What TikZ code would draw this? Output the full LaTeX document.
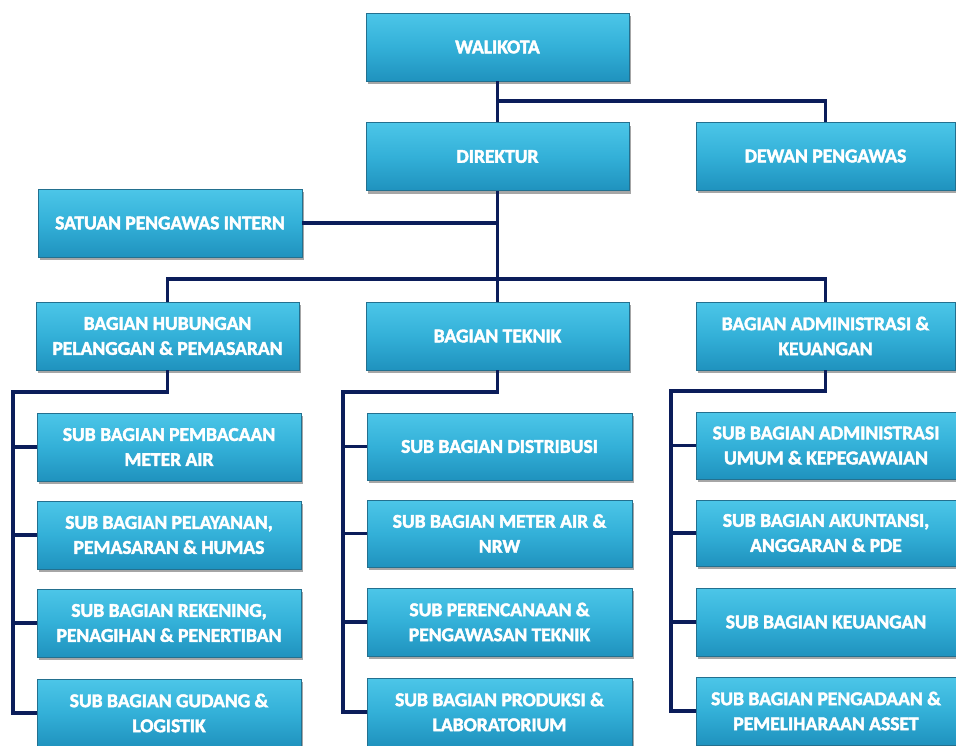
\documentclass[tikz,border=0pt]{standalone}
\usepackage{fontspec}
\setmainfont{Carlito}
\usetikzlibrary{shadows}
\definecolor{boxtop}{HTML}{4CC6E8}
\definecolor{boxmid}{HTML}{33B0D8}
\definecolor{boxbot}{HTML}{1F92BE}
\definecolor{boxedge}{HTML}{23708F}
\definecolor{navy}{HTML}{0B1D5A}
\newcommand{\heavytext}[1]{\special{pdf:literal direct 2 Tr 0.45 w}#1\special{pdf:literal direct 0 Tr}}
\tikzset{
  orgbox/.style={rectangle, draw=boxedge, line width=0.8pt,
    top color=boxtop, bottom color=boxbot, middle color=boxmid,
    text=white, align=center, inner sep=2pt,
    font=\bfseries\fontsize{19.5}{25}\selectfont,
    execute at begin node=\special{pdf:literal direct 2 Tr 0.45 w},
    execute at end node=\special{pdf:literal direct 0 Tr},
    drop shadow={shadow xshift=2pt, shadow yshift=-3pt, opacity=0.35, fill=black}},
  conn/.style={draw=navy, line width=3.6pt, line join=miter}
}
\begin{document}
\begin{tikzpicture}[x=1pt,y=-1pt]
\useasboundingbox[fill=white] (0,0) rectangle (956,745);

\coordinate (j1) at (497.5,101);
\coordinate (j2) at (497.5,279);
\coordinate (c1) at (13,392);
\coordinate (c2) at (343,392);
\coordinate (c3) at (671,391);

% top level
\node[orgbox, minimum width=263pt, minimum height=68pt] (wali) at (497.5,47) {WALIKOTA};
\node[orgbox, minimum width=263pt, minimum height=68pt] (dir) at (497.5,156.5) {DIREKTUR};
\node[orgbox, minimum width=259pt, minimum height=68pt] (dewan) at (825.5,156) {DEWAN PENGAWAS};
\node[orgbox, minimum width=264pt, minimum height=68pt] (spi) at (170,223) {SATUAN PENGAWAS INTERN};

% bagian
\node[orgbox, minimum width=263pt, minimum height=68pt] (bhub) at (167.5,336) {BAGIAN HUBUNGAN\\PELANGGAN \& PEMASARAN};
\node[orgbox, minimum width=263pt, minimum height=68pt] (btek) at (497.5,336) {BAGIAN TEKNIK};
\node[orgbox, minimum width=259pt, minimum height=68pt] (badm) at (825.5,336) {BAGIAN ADMINISTRASI \&\\KEUANGAN};

% column 1
\node[orgbox, minimum width=264pt, minimum height=68pt] (s11) at (169,447) {SUB BAGIAN PEMBACAAN\\METER AIR};
\node[orgbox, minimum width=264pt, minimum height=68pt] (s12) at (169,535) {SUB BAGIAN PELAYANAN,\\PEMASARAN \& HUMAS};
\node[orgbox, minimum width=264pt, minimum height=68pt] (s13) at (169,623) {SUB BAGIAN REKENING,\\PENAGIHAN \& PENERTIBAN};
\node[orgbox, minimum width=264pt, minimum height=68pt] (s14) at (169,713) {SUB BAGIAN GUDANG \&\\LOGISTIK};

% column 2
\node[orgbox, minimum width=265pt, minimum height=67pt] (s21) at (499.5,446.5) {SUB BAGIAN DISTRIBUSI};
\node[orgbox, minimum width=265pt, minimum height=67pt] (s22) at (499.5,533.5) {SUB BAGIAN METER AIR \&\\NRW};
\node[orgbox, minimum width=265pt, minimum height=68pt] (s23) at (499.5,622) {SUB PERENCANAAN \&\\PENGAWASAN TEKNIK};
\node[orgbox, minimum width=265pt, minimum height=68pt] (s24) at (499.5,712) {SUB BAGIAN PRODUKSI \&\\LABORATORIUM};

% column 3
\node[orgbox, minimum width=260pt, minimum height=67pt] (s31) at (826,445.5) {SUB BAGIAN ADMINISTRASI\\UMUM \& KEPEGAWAIAN};
\node[orgbox, minimum width=260pt, minimum height=66pt] (s32) at (826,533) {SUB BAGIAN AKUNTANSI,\\ANGGARAN \& PDE};
\node[orgbox, minimum width=260pt, minimum height=68pt] (s33) at (826,622) {SUB BAGIAN KEUANGAN};
\node[orgbox, minimum width=260pt, minimum height=68pt] (s34) at (826,711) {SUB BAGIAN PENGADAAN \&\\PEMELIHARAAN ASSET};

% connectors
\draw[conn] (wali.south) -- (dir.north);
\draw[conn] (j1) -| (dewan.north);
\draw[conn] (dir.south) -- (btek.north);
\draw[conn] (spi.east) -- (spi.east -| dir.south);
\draw[conn] (bhub.north) |- (j2) -| (badm.north);

\draw[conn] (bhub.south) |- (c1) |- (s14.west);
\draw[conn] (c1 |- s11.west) -- (s11.west);
\draw[conn] (c1 |- s12.west) -- (s12.west);
\draw[conn] (c1 |- s13.west) -- (s13.west);

\draw[conn] (btek.south) |- (c2) |- (s24.west);
\draw[conn] (c2 |- s21.west) -- (s21.west);
\draw[conn] (c2 |- s22.west) -- (s22.west);
\draw[conn] (c2 |- s23.west) -- (s23.west);

\draw[conn] (badm.south) |- (c3) |- (s34.west);
\draw[conn] (c3 |- s31.west) -- (s31.west);
\draw[conn] (c3 |- s32.west) -- (s32.west);
\draw[conn] (c3 |- s33.west) -- (s33.west);
\end{tikzpicture}
\end{document}
